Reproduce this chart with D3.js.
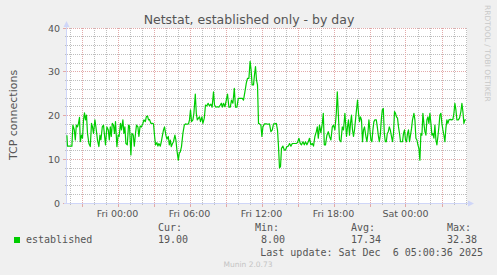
<!DOCTYPE html>
<html>
<head>
<meta charset="UTF-8">
<title>Netstat, established only - by day</title>
<script src="https://cdn.jsdelivr.net/npm/d3@7"></script>
<style>
  body { margin: 0; background: #f0f0f0; }
  svg text { fill: #555; }
</style>
</head>
<body>
<svg width="497" height="275"></svg>
<script>
// minutes relative to Fri Dec 5 2025 00:00, one reading every ~5 minutes
const minutes = [
  -253,-250,-228,-223,-216,-211,-206,-200,-195,-190,-186,-180,-175,-170,-165,-160,-155,-150,-143,-136,
  -130,-125,-120,-113,-108,-100,-93,-88,-83,-76,-70,-65,-60,-53,-46,-41,-36,-31,-26,-20,
  -15,-10,-3,3,8,15,20,27,32,37,42,49,55,60,67,72,79,84,90,95,
  102,107,113,120,127,132,139,144,150,155,160,167,174,180,185,190,197,202,207,214,
  219,225,230,235,242,247,254,259,264,269,275,280,287,292,297,304,309,314,320,327,
  334,340,347,355,360,365,370,377,382,389,394,399,405,410,415,422,427,434,
  440,447,453,460,467,473,480,485,492,500,507,514,519,524,530,537,544,550,557,564,
  570,577,584,590,597,604,610,617,624,630,637,644,650,657,663,668,673,680,685,690,
  695,700,705,710,717,722,727,735,744,752,760,767,774,780,787,794,800,805,810,815,
  820,827,834,840,847,854,860,867,874,880,887,894,900,907,914,920,927,934,940,947,
  954,960,967,974,980,987,994,999,1004,1010,1017,1024,1029,1034,1040,1047,1054,1060,1067,1074,
  1080,1087,1094,1099,1104,1110,1117,1124,1130,1137,
  1145,1150,1155,1160,1165,1170,1175,1180,1185,1190,1195,1200,1205,1210,1215,1220,1225,1230,1235,1242,
  1247,1252,1257,1262,1267,1272,1277,1282,1287,1294,1299,1304,1309,1314,1319,1324,1329,1334,1339,1344,
  1349,1354,1359,1364,1370,1375,1380,1385,1390,1395,1400,1405,1410,1415,1420,1425,1430,1435,1440,1445,
  1450,1455,1460,1465,1470,1475,1482,1487,1492,1497,1502,1507,1512,1517,1522,1527,1532,1537,1542,1547,
  1552,1557,1562,1567,1572,1577,1582,1587,1592,1597,1602,1607,1612,1617,1622,1627,1632,1637,1642,1647,
  1652,1657,1664,1670,1677,1682,1687,1692,1697,1704,1710,1717,1722,1727,1732,1737,1742
];
const established = [
  15.5,13.0,13.0,17.8,16.7,14.4,17.8,17.4,18.2,19.6,14.0,15.5,14.8,19.0,20.6,19.0,20.1,15.9,13.6,12.9,
  18.2,17.4,15.9,19.0,17.4,14.4,12.9,15.5,14.4,17.4,17.8,15.5,13.3,17.4,16.7,14.4,17.4,15.2,18.2,17.8,
  15.9,18.6,12.9,15.5,15.2,18.2,16.7,19.0,15.9,17.4,13.6,13.3,17.8,17.6,11.0,15.9,15.5,13.0,15.9,17.8,
  17.4,15.2,17.6,17.4,18.2,19.0,18.6,19.7,19.9,19.0,19.1,18.2,18.2,18.1,15.5,13.3,13.8,13.0,13.6,13.0,
  14.0,15.5,16.7,17.4,15.5,14.6,15.2,13.3,14.4,12.9,13.6,14.0,15.5,14.4,12.1,9.8,11.4,11.7,12.9,15.9,
  17.8,18.1,18.0,18.1,19.0,21.3,18.6,19.0,20.5,24.9,20.5,19.0,19.4,19.7,18.6,19.7,18.2,19.4,
  22.4,22.2,22.8,22.2,22.6,21.9,25.4,22.4,21.9,22.0,21.9,22.4,22.8,21.9,22.8,22.0,23.5,24.9,21.9,21.9,
  23.5,22.8,26.2,21.9,21.9,23.9,23.9,23.9,23.9,23.5,25.4,27.4,28.5,28.5,32.38,30.4,27.0,27.0,29.3,31.2,
  28.1,27.0,18.2,18.1,17.8,15.2,17.4,18.1,18.1,18.0,18.1,16.3,16.7,18.1,18.1,18.2,16.7,12.9,8.0,8.3,
  12.5,13.0,12.1,12.1,12.9,13.0,13.6,13.0,13.6,13.6,13.6,13.6,13.8,14.8,13.6,13.3,14.0,13.3,14.0,13.3,
  14.0,14.8,13.3,13.6,13.0,15.2,16.3,17.4,14.8,17.8,16.1,18.2,20.5,13.3,13.3,15.5,16.3,15.2,14.4,17.4,
  17.8,16.7,20.5,25.4,20.5,14.4,14.0,17.4,16.7,20.5,
  15.2,17.4,19.0,15.5,18.2,20.1,16.7,15.2,16.7,19.0,21.3,23.5,20.5,18.6,19.7,19.0,14.0,16.7,17.4,15.2,
  14.0,15.9,19.0,16.7,14.4,14.0,16.7,18.6,19.0,19.0,17.4,15.5,14.0,15.5,19.0,21.3,21.6,15.9,14.0,14.0,
  15.9,16.3,17.4,16.7,15.2,14.0,15.9,20.9,20.5,19.7,19.4,17.4,15.9,14.0,14.0,14.0,15.9,16.7,14.4,14.0,
  15.9,16.7,14.0,15.5,17.0,19.0,20.5,19.0,14.8,14.4,13.3,12.5,9.8,15.9,15.5,20.5,18.2,16.3,15.5,19.0,
  19.7,18.2,20.5,18.2,15.5,15.9,14.8,17.8,14.4,13.3,15.2,17.4,20.1,20.5,18.2,16.7,15.5,14.0,17.1,19.0,
  18.2,19.0,19.1,19.0,19.1,20.5,22.8,21.3,19.0,19.0,19.4,20.9,22.8,20.9,18.2,19.0,19.0
];
const yTicks = [0, 10, 20, 30, 40];
const legendHeads = ["Cur:", "Min:", "Avg:", "Max:"];
const legendValues = ["19.00", " 8.00", "17.34", "32.38"];

const base = new Date(2025, 11, 5, 0, 0, 0);
const data = minutes.map((m, i) => ({ t: new Date(+base + m * 60000), v: established[i] }));

const svg = d3.select("svg");
const pLeft = 67, pRight = 467, pTop = 28, pBottom = 203;

const x = d3.scaleTime()
  .domain([new Date(2025, 11, 4, 19, 47, 30), new Date(2025, 11, 6, 5, 7, 30)])
  .range([pLeft, pRight]);
const y = d3.scaleLinear().domain([0, 40]).range([pBottom, pTop]);
const px = v => Math.round(v) + 0.5;

// canvas
svg.append("rect").attr("x", pLeft).attr("y", pTop).attr("width", pRight - pLeft).attr("height", pBottom - pTop)
  .attr("fill", "#fff");

const minorColor = "#bebebe", majorColor = "#e2a9a9", axisColor = "#cfd6f8";
const hours = x.ticks(d3.timeHour.every(1));
const yMinor = d3.range(2, 40, 2).filter(v => v % 10 !== 0);

// dotted grid, one pixel on / one off
const grid = svg.append("g").attr("shape-rendering", "crispEdges").attr("fill", "none");
function hDots(yy) {
  let d = "";
  for (let xx = pLeft; xx < pRight; xx += 2) d += "M" + xx + "," + yy + "h1";
  return d;
}
function vDots(xx) {
  let d = "";
  for (let yy = pTop; yy < pBottom; yy += 2) d += "M" + xx + "," + yy + "v1";
  return d;
}
grid.selectAll(".vmin").data(hours.filter(d => d.getHours() % 3 !== 0)).enter().append("path")
  .attr("d", d => vDots(px(x(d)))).attr("stroke", minorColor);
grid.selectAll(".hmin").data(yMinor).enter().append("path")
  .attr("d", d => hDots(px(y(d) - 0.5))).attr("stroke", minorColor);
grid.selectAll(".vmaj").data(hours.filter(d => d.getHours() % 3 === 0)).enter().append("path")
  .attr("d", d => vDots(px(x(d)))).attr("stroke", majorColor);
grid.selectAll(".hmaj").data(yTicks.filter(v => v > 0)).enter().append("path")
  .attr("d", d => hDots(px(y(d) - 0.5))).attr("stroke", majorColor);

// tick marks outside the canvas
const ticks = svg.append("g").attr("stroke-width", 1).attr("shape-rendering", "crispEdges");
ticks.selectAll(".ty").data(d3.range(0, 41, 2)).enter().append("line")
  .attr("x1", d => d % 10 === 0 ? 63 : 65).attr("x2", 67)
  .attr("y1", d => px(y(d) - 0.5)).attr("y2", d => px(y(d) - 0.5))
  .attr("stroke", d => d % 10 === 0 ? majorColor : minorColor);
ticks.selectAll(".tx").data(hours).enter().append("line")
  .attr("x1", d => px(x(d))).attr("x2", d => px(x(d)))
  .attr("y1", pBottom).attr("y2", d => d.getHours() % 3 === 0 ? 207 : 205)
  .attr("stroke", d => d.getHours() % 3 === 0 ? majorColor : minorColor);

// axes with arrows
svg.append("line").attr("x1", 66.5).attr("x2", 66.5).attr("y1", pBottom + 1).attr("y2", 24)
  .attr("stroke", axisColor);
svg.append("line").attr("x1", 64).attr("x2", 469).attr("y1", pBottom + 0.5).attr("y2", pBottom + 0.5)
  .attr("stroke", axisColor);
svg.append("path").attr("d", "M63.5,27L69.5,27L66.5,21Z").attr("fill", axisColor);
svg.append("path").attr("d", "M468,200.5L468,206.5L474,203.5Z").attr("fill", axisColor);

// data line
svg.append("path").datum(data)
  .attr("fill", "none").attr("stroke", "#00cc00").attr("stroke-width", 1.2)
  .attr("stroke-linejoin", "round")
  .attr("d", d3.line().x(d => x(d.t)).y(d => y(d.v)));

// y labels
svg.selectAll(".yl").data(yTicks).enter().append("text")
  .attr("x", 60).attr("y", d => y(d) + 3.5).attr("text-anchor", "end")
  .style("font", "9.5px 'DejaVu Sans'").text(d => d);

// x labels
svg.selectAll(".xl").data(x.ticks(d3.timeHour.every(6))).enter().append("text")
  .attr("x", d => x(d)).attr("y", 216.5).attr("text-anchor", "middle")
  .style("font", "9.5px 'DejaVu Sans'").text(d3.timeFormat("%a %H:%M"));

// title and axis title
svg.append("text").attr("x", 249).attr("y", 23.5).attr("text-anchor", "middle")
  .style("font", "12.5px 'DejaVu Sans'").text("Netstat, established only - by day");
svg.append("text").attr("transform", "translate(16.5,115) rotate(-90)").attr("text-anchor", "middle")
  .style("font", "11px 'DejaVu Sans'").text("TCP connections");
svg.append("text").attr("transform", "translate(484.5,5) rotate(90)")
  .style("font", "7.5px 'DejaVu Sans'").style("fill", "#c8c8c8").text("RRDTOOL / TOBI OETIKER");

// legend
svg.append("rect").attr("x", 14).attr("y", 237).attr("width", 6).attr("height", 6).attr("fill", "#00cc00");
const mono = "10px 'DejaVu Sans Mono'";
svg.append("text").attr("x", 26).attr("y", 243).style("font", mono).text("established");
const cols = [158, 255, 351, 447];
svg.selectAll(".lh").data(legendHeads).enter().append("text")
  .attr("x", (d, i) => cols[i]).attr("y", 230.5).style("font", mono).style("white-space", "pre").text(d => d);
svg.selectAll(".lv").data(legendValues).enter().append("text")
  .attr("x", (d, i) => cols[i]).attr("y", 243).style("font", mono).style("white-space", "pre").text(d => d);
svg.append("text").attr("x", 483).attr("y", 255.5).attr("text-anchor", "end")
  .style("font", mono).style("white-space", "pre").text("Last update: Sat Dec  6 05:00:36 2025");
svg.append("text").attr("x", 248).attr("y", 267).attr("text-anchor", "middle")
  .style("font", "7.5px 'DejaVu Sans'").style("fill", "#c4c4c4").text("Munin 2.0.73");
</script>
</body>
</html>
